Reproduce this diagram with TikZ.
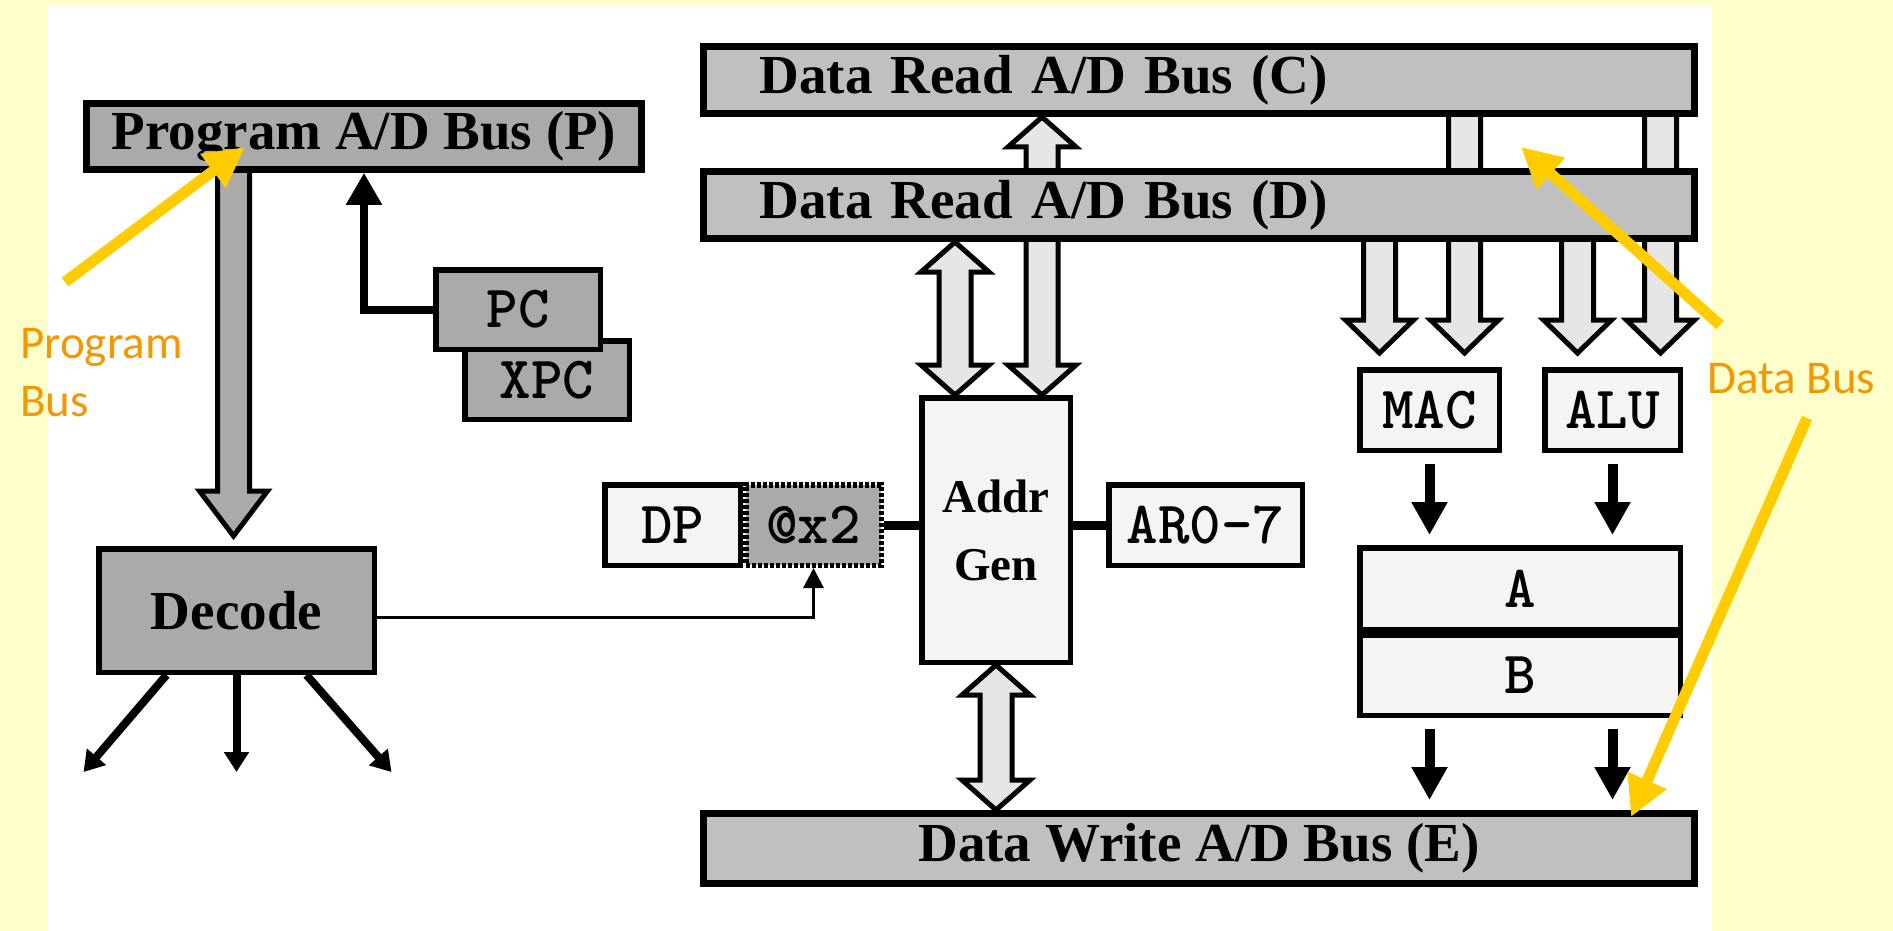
\documentclass[tikz,border=0pt]{standalone}
\usepackage{fontspec}
\setmainfont{Liberation Serif}
\newfontfamily\regfont{Latin Modern Mono Light}
\newfontfamily\notefont{Carlito}
\usepackage{tikz}
\usetikzlibrary{arrows.meta,positioning,calc,backgrounds}
\usepackage{xcolor}
\definecolor{paneyellow}{HTML}{FFFFCC}
\definecolor{busgray}{HTML}{C0C0C0}
\definecolor{regdark}{HTML}{AAAAAA}
\definecolor{reglight}{HTML}{F4F4F4}
\definecolor{shaftgray}{HTML}{E6E6E6}
\definecolor{noteorange}{HTML}{F39800}
\definecolor{pointeryellow}{HTML}{FFCC00}

% hollow bus arrow: top point, bottom point, head length at top, head length at bottom
\newcommand{\fatarrow}[5][shaftgray]{%
  \draw[line width=5pt, fill=#1, line join=miter] let \p1=(#2), \p2=(#3),
    \n1={16+18*min(#4,1)}, \n2={16+18*min(#5,1)} in
    (\x1,\y1) -- ({\x1+\n1*1pt},{\y1-#4pt}) -- ({\x1+16pt},{\y1-#4pt})
    -- ({\x1+16pt},{\y2+#5pt}) -- ({\x1+\n2*1pt},{\y2+#5pt}) -- (\x1,\y2)
    -- ({\x1-\n2*1pt},{\y2+#5pt}) -- ({\x1-16pt},{\y2+#5pt})
    -- ({\x1-16pt},{\y1-#4pt}) -- ({\x1-\n1*1pt},{\y1-#4pt}) -- cycle;}

\tikzset{
  bus/.style={draw, line width=7pt, fill=busgray, minimum width=991pt, minimum height=67pt,
    inner sep=0pt, font=\fontsize{55}{60}\selectfont\bfseries},
  busleft/.style={bus, text width=879pt, align=left, inner xsep=56pt},
  reg/.style={draw, line width=5.5pt, fill=reglight, inner sep=0pt,
    font=\fontsize{60}{64}\selectfont\regfont\bfseries},
  darkreg/.style={reg, fill=regdark},
  wire/.style={line width=9pt},
  blkarrow/.style={line width=10pt, shorten <=11pt, shorten >=10pt, -{Triangle[length=33pt,width=34pt]}},
  fanarrow/.style={line width=8pt, -{Triangle[length=20pt,width=24pt]}},
  note/.style={text=noteorange, inner sep=0pt, font=\notefont\fontsize{47}{58}\selectfont},
  pointer/.style={draw=pointeryellow, line width=11pt, -{Triangle[length=40pt,width=40pt]}}
}

\begin{document}
\begin{tikzpicture}[x=1pt, y=-1pt]
  \useasboundingbox (0,0) rectangle (1893,931);

  % Buses
  \node[bus, fill=regdark, line width=6.5pt, minimum width=555pt, minimum height=66pt] (progbus) at (364,136.5) {Program A/D Bus (P)};
  \node[busleft] (cbus) at (1199,80) {Data Read A/D Bus (C)};
  \node[busleft] (dbus) at (1199,205) {Data Read A/D Bus (D)};
  \node[bus, minimum height=70pt] (ebus) at (1199,848.5) {Data Write A/D Bus (E)};

  % Program side
  \node[darkreg, minimum width=164.5pt, minimum height=78.5pt] (xpcreg) at (547,380) {XPC};
  \node[darkreg, minimum width=164.5pt, minimum height=79.5pt] (pcreg) at (518,309.5) {PC};
  \node[darkreg, font=\fontsize{55}{60}\selectfont\bfseries, minimum width=275.5pt, minimum height=123.5pt] (decode) at (236.5,610.5) {Decode};
  \draw[line width=8pt, -{Triangle[length=32pt,width=34pt]}] (pcreg.west) -| (progbus.south);
  \foreach \s/\e [count=\i] in {-70/-153,0/0,70/155} {
    \coordinate (fan\i) at ($(decode.south)+(\e,97)$);
    \draw[fanarrow] ([xshift=\s pt]decode.south) -- (fan\i);
  }

  % Address generation
  \node[reg, minimum width=135.5pt, minimum height=80.5pt] (dpreg) at (672.5,525) {DP};
  \node[darkreg, dash pattern=on 4pt off 2pt, minimum width=135.5pt, minimum height=80.5pt] (x2reg) at (813.5,525) {@x2};
  \node[reg, align=center, font=\fontsize{47}{68}\selectfont\bfseries, minimum width=148.5pt, minimum height=264.5pt] (addrgen) at (996,530) {Addr\\Gen};
  \node[reg, minimum width=193.5pt, minimum height=80.5pt] (ar07) at (1205.5,525) {AR0-7};
  \draw[wire] (x2reg.east) -- (x2reg.east -| addrgen.west);
  \draw[wire] (addrgen.east |- ar07.west) -- (ar07.west);
  \draw[line width=3pt, -{Triangle[length=20pt,width=20pt]}] ([yshift=-7pt]decode.east) -| (x2reg.south);

  % Data units
  \node[reg, minimum width=139.5pt, minimum height=80.5pt] (macunit) at (1429.5,410) {MAC};
  \node[reg, minimum width=135.5pt, minimum height=80.5pt] (aluunit) at (1612.5,410) {ALU};
  \node[reg, minimum width=320.5pt, minimum height=81.5pt] (accA) at (1520,588.5) {A};
  \node[reg, minimum width=320.5pt, minimum height=80.5pt] (accB) at (1520,675) {B};
  \foreach \u in {macunit,aluunit} {
    \draw[blkarrow] (\u.south) -- (\u.south |- accA.north);
    \draw[blkarrow] (\u.south |- accB.south) -- (\u.south |- ebus.north);
  }

  % Panel and hollow bus arrows
  \begin{scope}[on background layer]
    \fill[paneyellow] (0,0) rectangle (1893,931);
    \fill[white] (48,6) rectangle (1712,931);
    \coordinate (decin) at ($(decode.north)+(-3,-10)$);
    \coordinate (agC) at ($(addrgen.north)+(46,0)$);
    \coordinate (agD) at ($(addrgen.north)+(-41,0)$);
    \coordinate (macD) at ($(macunit.north)+(-50,-14)$);
    \coordinate (macC) at ($(macunit.north)+(35,-14)$);
    \coordinate (aluD) at ($(aluunit.north)+(-35,-14)$);
    \coordinate (aluC) at ($(aluunit.north)+(48,-14)$);
    \fatarrow[regdark]{decin |- progbus}{decin}{0}{45}
    \fatarrow{agC |- cbus.south}{agC}{30}{30}
    \fatarrow{agD |- dbus.south}{agD}{30}{30}
    \fatarrow{addrgen.south}{addrgen.south |- ebus.north}{30}{30}
    \fatarrow{macD |- dbus}{macD}{0}{33}
    \fatarrow{macC |- cbus}{macC}{0}{33}
    \fatarrow{aluD |- dbus}{aluD}{0}{33}
    \fatarrow{aluC |- cbus}{aluC}{0}{33}
  \end{scope}

  % Notes
  \node[note, align=left, anchor=north west] (pbnote) at (20,328) {Program\\Bus};
  \node[note, anchor=base west] (dbnote) at (1707,393) {Data Bus};
  \coordinate (pbtail) at (65,282);
  \coordinate (pbtip) at (245,147);
  \coordinate (dbtail1) at (1720,325);
  \coordinate (dbtip1) at (1521,147);
  \coordinate (dbtail2) at (1807,418);
  \coordinate (dbtip2) at (1631,817);
  \draw[pointer] (pbtail) -- (pbtip);
  \draw[pointer] (dbtail1) -- (dbtip1);
  \draw[pointer] (dbtail2) -- (dbtip2);
\end{tikzpicture}
\end{document}
